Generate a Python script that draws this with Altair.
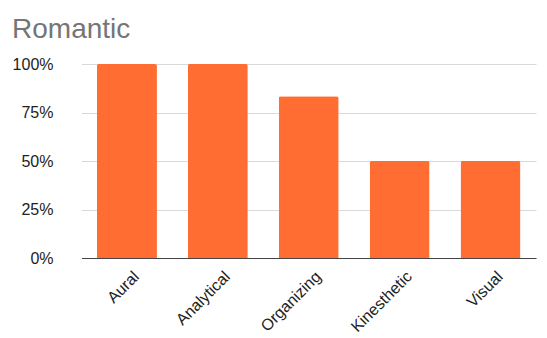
import altair as alt
import pandas as pd

# Share of "Romantic" respondents per learning style
styles = ["Aural", "Analytical", "Organizing", "Kinesthetic", "Visual"]
shares = [1.0, 1.0, 5 / 6, 0.5, 0.5]
y_ticks = [0, 0.25, 0.5, 0.75, 1.0]

df = pd.DataFrame({"style": styles, "share": shares})

FONT = "Liberation Sans"

chart = (
    alt.Chart(df)
    .mark_bar(color="#FF6D33", cornerRadiusTopLeft=2, cornerRadiusTopRight=2)
    .encode(
        x=alt.X(
            "style:N",
            sort=styles,
            title=None,
            scale=alt.Scale(range=[18.5, 473], paddingInner=0.34, paddingOuter=0.17),
            axis=alt.Axis(
                labelAngle=-45,
                labelAlign="right",
                labelBaseline="top",
                labelFontSize=16,
                labelFont=FONT,
                labelColor="#222222",
                labelPadding=10,
                labelOffset=4,
                ticks=False,
                domainColor="#444444",
                domainWidth=1.2,
                grid=False,
            ),
        ),
        y=alt.Y(
            "share:Q",
            title=None,
            scale=alt.Scale(domain=[0, 1], nice=False),
            axis=alt.Axis(
                values=y_ticks,
                format=".0%",
                labelFontSize=16,
                labelFont=FONT,
                labelColor="#222222",
                labelPadding=10,
                ticks=False,
                domain=False,
                gridColor="#d9d9d9",
                gridWidth=1,
            ),
        ),
    )
    .properties(
        width=483,
        height=194,
        background="white",
        title=alt.TitleParams(
            text="Romantic",
            anchor="start",
            font=FONT,
            fontSize=28,
            fontWeight="normal",
            color="#757575",
            dx=0,
            offset=12,
        ),
        autosize=alt.AutoSizeParams(type="none"),
        padding={"left": 63, "top": 64, "right": 1, "bottom": 80},
    )
    .configure_view(stroke="transparent", strokeWidth=0)
)

chart.save("out.html", embed_options={"renderer": "svg", "actions": False})
